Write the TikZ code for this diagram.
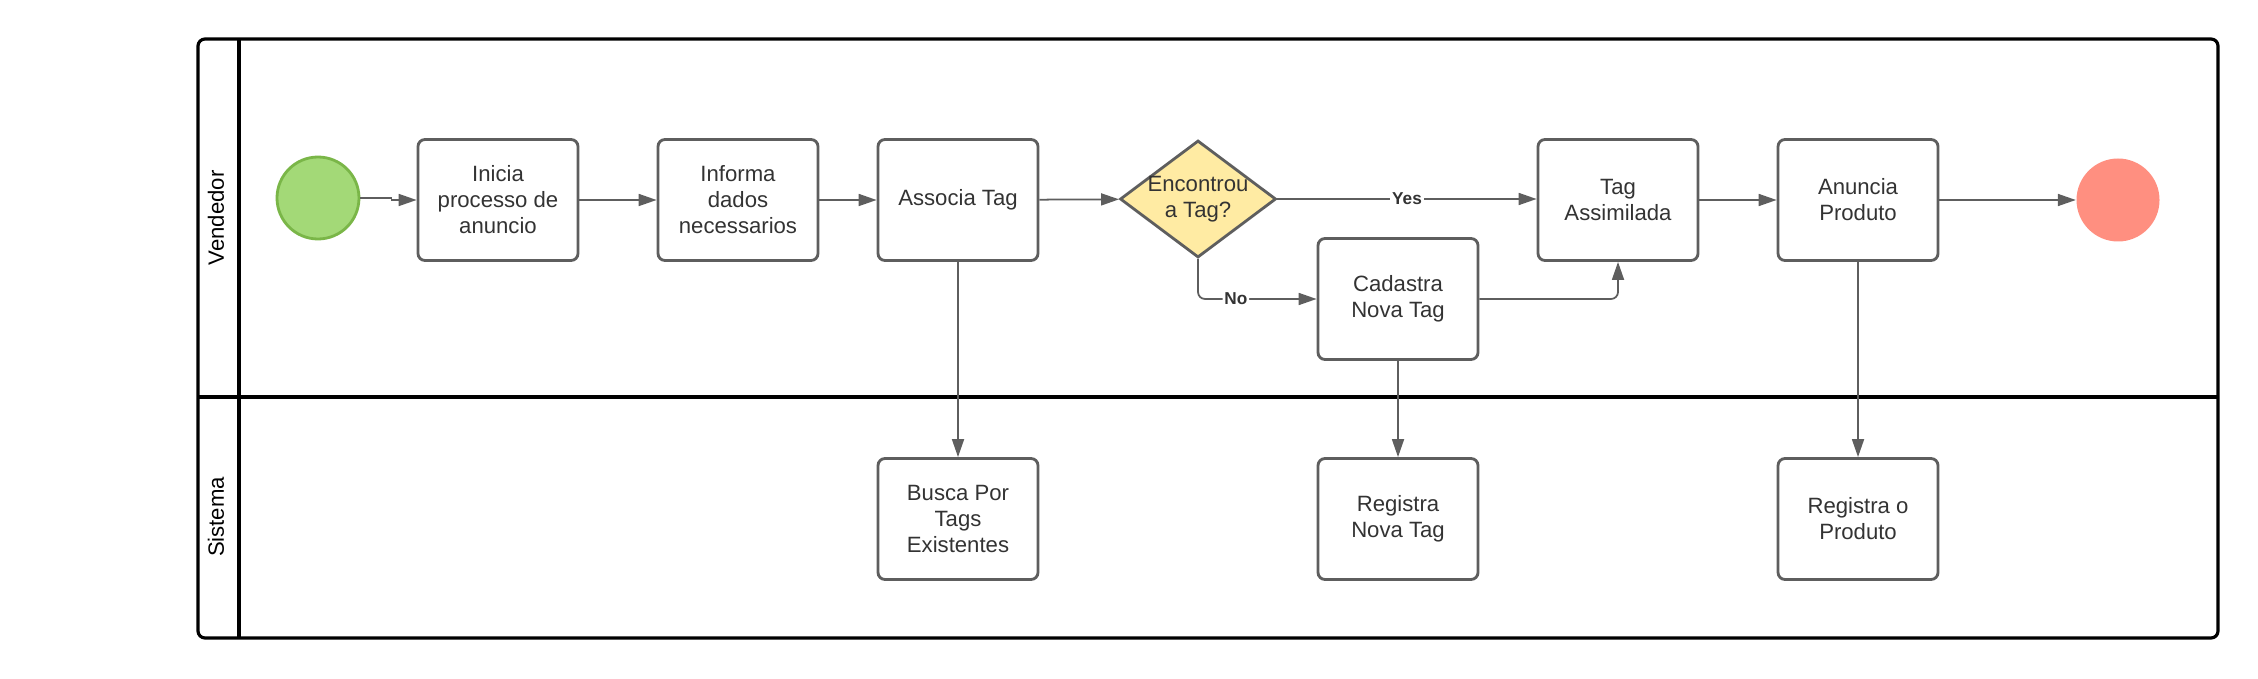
\documentclass[tikz,border=0pt]{standalone}
\usepackage{fontspec}
\setmainfont{Liberation Sans}
\usetikzlibrary{arrows.meta,shapes.geometric}
\definecolor{boxline}{HTML}{5E5E5E}
\definecolor{txt}{HTML}{333333}
\definecolor{startfill}{HTML}{A3D977}
\definecolor{startline}{HTML}{7AB648}
\definecolor{endfill}{HTML}{FF8F80}
\definecolor{gatefill}{HTML}{FFEBA3}
\begin{document}
\begin{tikzpicture}[
    font=\fontsize{6.3}{7.4}\selectfont,
    task/.style={
        rectangle, rounded corners=2pt, draw=boxline, line width=0.8pt,
        fill=white, text=txt, align=center,
        minimum width=1.60cm, minimum height=1.21cm, inner sep=1pt
    },
    gate/.style={
        diamond, draw=boxline, line width=0.8pt, fill=gatefill,
        minimum width=1.56cm, minimum height=1.17cm, inner sep=0pt
    },
    startev/.style={circle, draw=startline, line width=0.8pt, fill=startfill,
        minimum size=0.82cm, inner sep=0pt},
    endev/.style={circle, fill=endfill, minimum size=0.83cm, inner sep=0pt},
    flow/.style={draw=boxline, line width=0.5pt,
        -{Triangle[length=0.18cm, width=0.12cm]}},
    cond/.style={font=\fontsize{4.9}{6}\selectfont\bfseries, text=txt,
        fill=white, inner sep=0.5pt},
    pool/.style={draw=black, line width=0.9pt},
    lanelbl/.style={rotate=90, text=black}
]

\useasboundingbox (0,0) rectangle (22.58,6.78);

%% ── Bazen a dráhy ────────────────────────────────────────────────
\draw[pool, rounded corners=2pt] (1.98,0.40) rectangle (22.18,6.39);
\draw[pool] (2.39,0.40) -- (2.39,6.39);
\draw[pool] (1.98,2.81) -- (22.18,2.81);
\node[lanelbl] (lvend) at (2.16,4.60) {Vendedor};
\node[lanelbl] (lsist) at (2.16,1.61) {Sistema};

%% ── Vendedor ─────────────────────────────────────────────────────
\node[startev] (start) at (3.18,4.80) {};
\node[task] (inicia) at (4.98,4.78) {Inicia\\processo de\\anuncio};
\node[task] (informa) at (7.38,4.78) {Informa\\dados\\necessarios};
\node[task] (associa) at (9.58,4.78) {Associa Tag};
\node[gate, label={[align=center, text=txt]center:Encontrou\\a Tag?}]
    (achou) at (11.98,4.79) {};
\node[task] (cadastra) at (13.98,3.79) {Cadastra\\Nova Tag};
\node[task] (assimil) at (16.18,4.78) {Tag\\Assimilada};
\node[task] (anuncia) at (18.58,4.78) {Anuncia\\Produto};
\node[endev] (fim) at (21.18,4.78) {};

%% ── Sistema ──────────────────────────────────────────────────────
\node[task] (busca) at (9.58,1.59) {Busca Por\\Tags\\Existentes};
\node[task] (regtag) at (13.98,1.59) {Registra\\Nova Tag};
\node[task] (regprod) at (18.58,1.59) {Registra o\\Produto};

%% ── Toky ─────────────────────────────────────────────────────────
\draw[flow] (start.east) -- ++(0.31,0) |- (inicia.west);
\draw[flow] (inicia) -- (informa);
\draw[flow] (informa) -- (associa);
\draw[flow] (associa) -- (achou);
\draw[flow] (achou.east) -- node[cond] {Yes} (assimil.west |- achou.east);
\draw[flow, rounded corners=2pt] (achou.south) |- node[cond, pos=0.66] {No}
    (cadastra.west);
\draw[flow, rounded corners=2pt] (cadastra.east) -| (assimil.south);
\draw[flow] (assimil) -- (anuncia);
\draw[flow] (anuncia) -- (fim);

\draw[flow] (associa) -- (busca);
\draw[flow] (cadastra) -- (regtag);
\draw[flow] (anuncia) -- (regprod);

\end{tikzpicture}
\end{document}
